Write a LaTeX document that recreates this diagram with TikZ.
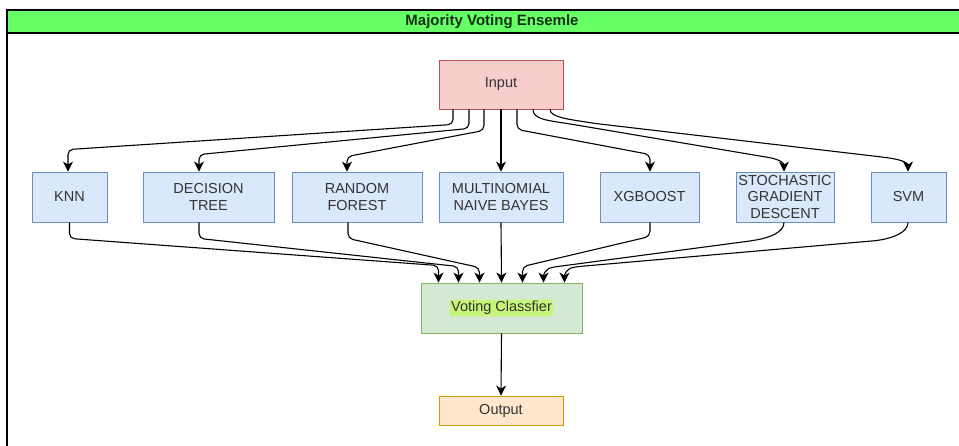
\documentclass[tikz,border=0pt]{standalone}
\usepackage{fontspec}
\setmainfont{Liberation Sans}
\usetikzlibrary{arrows.meta,calc}
\definecolor{hdrfill}{HTML}{66FF66}
\definecolor{hdrtext}{HTML}{163016}
\definecolor{bfill}{HTML}{DAE8FC}
\definecolor{bdraw}{HTML}{6C8EBF}
\definecolor{rfill}{HTML}{F8CECC}
\definecolor{rdraw}{HTML}{B85450}
\definecolor{gfill}{HTML}{D5E8D4}
\definecolor{gdraw}{HTML}{82B366}
\definecolor{ofill}{HTML}{FFE6CC}
\definecolor{odraw}{HTML}{D79B00}
\definecolor{glow}{HTML}{C6F57A}
\definecolor{txt}{HTML}{333333}
\begin{document}
\begin{tikzpicture}[x=1pt,y=-1pt,
  every node/.style={font=\fontsize{14.5}{17}\selectfont, text=txt},
  model/.style={draw=bdraw, fill=bfill, line width=0.9pt, inner sep=0pt, align=center, minimum height=50pt},
  inbox/.style={draw=rdraw, fill=rfill, line width=0.9pt, inner sep=0pt, minimum width=124pt, minimum height=49pt},
  votebox/.style={draw=gdraw, fill=gfill, line width=0.9pt, inner sep=0pt, minimum width=161pt, minimum height=50pt},
  outbox/.style={draw=odraw, fill=ofill, line width=0.9pt, inner sep=0pt, minimum width=124pt, minimum height=29pt},
  conn/.style={line width=1.1pt, black, rounded corners=5pt, -{Stealth[length=10pt,width=10pt,inset=3pt]}}
]
\useasboundingbox (0,0) rectangle (959,446);
\clip (0,0) rectangle (959,446);
\fill[white] (0,0) rectangle (959,446);
% frame
\draw[line width=1.5pt, fill=hdrfill] (7,460) -- (7,10) -- (975,10) -- (975,33) -- (7,33);
\node[font=\bfseries\fontsize{15}{17}\selectfont, text=hdrtext] (title) at (492,21.5) {Majority Voting Ensemle};

% nodes
\node[inbox] (in) at (501,84.5) {Input};
\node[model, minimum width=75pt] (knn) at (69.5,197) {KNN};
\node[model, minimum width=131pt] (dt) at (208.5,197) {DECISION\\TREE};
\node[model, minimum width=130pt] (rf) at (357,197) {RANDOM\\FOREST};
\node[model, minimum width=124pt] (mnb) at (501,197) {MULTINOMIAL\\NAIVE BAYES};
\node[model, minimum width=99pt] (xgb) at (649.5,197) {XGBOOST};
\node[model, minimum width=98pt, font=\fontsize{14.5}{16.5}\selectfont] (sgd) at (785,197) {STOCHASTIC\\GRADIENT\\DESCENT};
\node[model, minimum width=75pt] (svm) at (908.5,197) {SVM};
\node[votebox] (vc) at (501.5,308) {};
\node[fill=glow, inner sep=1.5pt, rounded corners=3pt] (vct) at (vc.center) {Voting Classfier};
\node[outbox] (out) at (501,410.5) {Output};

% input -> models
\draw[conn] ([xshift=-48pt]in.south) -- ++(0,15) -- ([xshift=-1.5pt,yshift=22pt]knn.north) -- ([xshift=-1.5pt]knn.north);
\draw[conn] ([xshift=-32pt]in.south) -- ++(0,19) -- ([xshift=-9.5pt,yshift=17pt]dt.north) -- ([xshift=-9.5pt]dt.north);
\draw[conn] ([xshift=-17pt]in.south) -- ++(0,21) -- ([xshift=-10pt,yshift=15pt]rf.north) -- ([xshift=-10pt]rf.north);
\draw[conn] (in.south) -- (mnb.north);
\draw[conn] ([xshift=16pt]in.south) -- ++(0,20) -- ([xshift=0.5pt,yshift=17pt]xgb.north) -- ([xshift=0.5pt]xgb.north);
\draw[conn] ([xshift=32pt]in.south) .. controls ++(0,10) and ++(-25,-4) .. ++(40,15) -- ([xshift=-22pt,yshift=15pt]sgd.north) .. controls ++(18,3) and ++(0,-8) .. ([xshift=-1pt]sgd.north);
\draw[conn] ([xshift=49pt]in.south) .. controls ++(0,8) and ++(-25,-4) .. ++(45,14) -- ([xshift=-22pt,yshift=14pt]svm.north) .. controls ++(18,3) and ++(0,-8) .. ([xshift=-0.5pt]svm.north);

% models -> voting
\draw[conn] (knn.south) -- ++(0,16) -- ([xshift=-63pt,yshift=17pt]vc.north) -- ([xshift=-63pt]vc.north);
\draw[conn] ([xshift=-9.5pt]dt.south) -- ++(0,16) -- ([xshift=-43pt,yshift=16pt]vc.north) -- ([xshift=-43pt]vc.north);
\draw[conn] ([xshift=-9pt]rf.south) -- ++(0,16) -- ([xshift=-22pt,yshift=15pt]vc.north) -- ([xshift=-22pt]vc.north);
\draw[conn] (mnb.south) -- (vc.north);
\draw[conn] ([xshift=0.5pt]xgb.south) -- ++(0,14) -- ([xshift=21pt,yshift=16pt]vc.north) -- ([xshift=21pt]vc.north);
\draw[conn] ([xshift=-1pt]sgd.south) .. controls ++(0,10) and ++(15,-3) .. ++(-30,18) -- ([xshift=56pt,yshift=16pt]vc.north) .. controls ++(-12,2) and ++(0,-8) .. ([xshift=42pt]vc.north);
\draw[conn] ([xshift=-0.5pt]svm.south) .. controls ++(0,10) and ++(15,-3) .. ++(-30,18) -- ([xshift=77pt,yshift=16pt]vc.north) .. controls ++(-12,2) and ++(0,-8) .. ([xshift=63pt]vc.north);

% voting -> output
\draw[conn] (vc.south) -- (out.north);
\end{tikzpicture}
\end{document}
